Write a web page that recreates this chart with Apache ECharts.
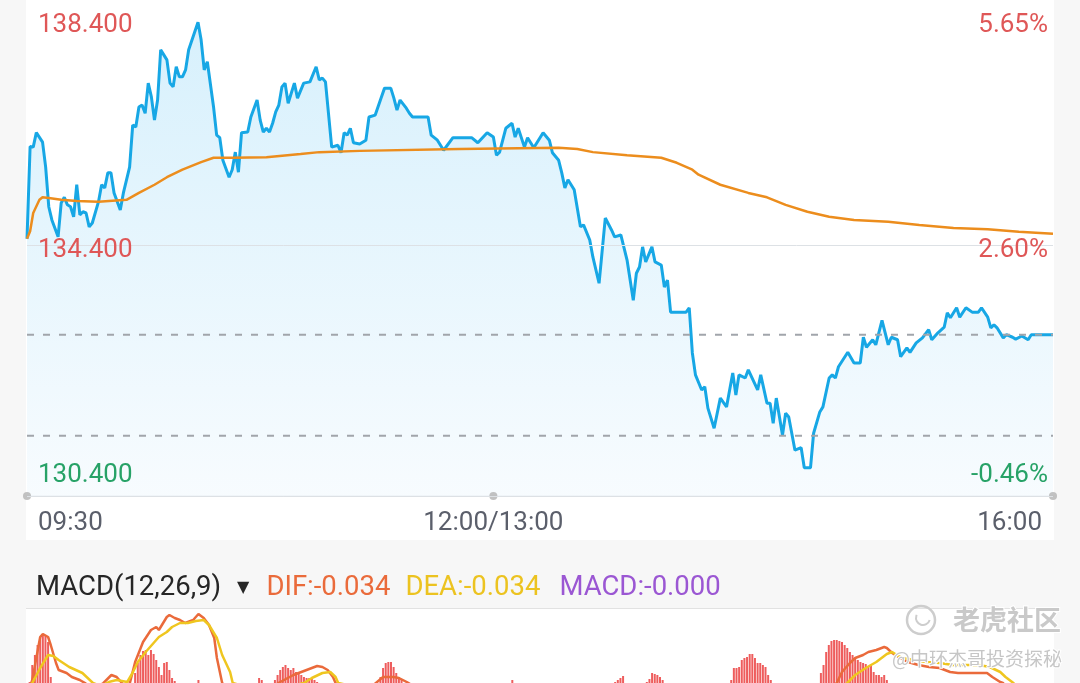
<!DOCTYPE html>
<html>
<head>
<meta charset="utf-8">
<script src="https://cdn.jsdelivr.net/npm/echarts@6/dist/echarts.min.js"></script>
<style>
html,body{margin:0;padding:0;background:#f7f7f7;overflow:hidden;}
#chart{position:absolute;left:0;top:-6px;width:1080px;height:689px;}
</style>
</head>
<body>
<div id="chart"></div>
<script>
// ---------------- data ----------------
const prevClose = 131.0;
const priceMin = 130.4, priceMax = 138.4, priceStep = 4;
const timeTicks = [0, 150, 330];                 // minutes since 09:30 (lunch break removed)
const timeLabels = ['09:30', '12:00/13:00', '16:00'];
const dashedLevels = [132.97, 131.36];

// [minute, price]
const pricePoints = [
[0,134.50],[1,135.97],[2,135.96],[3,136.19],[5,136.04],[6,135.64],[7,135.01],[8,134.80],[10,134.53],
[11,135.07],[12,135.16],[13,135.04],[14,135.01],[15,134.85],[16,135.36],[17,134.88],[18,134.93],[19,134.91],
[20,134.69],[21,134.75],[23,135.09],[24,135.36],[25,135.31],[26,135.55],[27,135.55],[28,135.23],[30,134.96],
[31,135.23],[33,135.64],[34,136.31],[35,136.28],[36,136.60],[37,136.63],[38,136.50],[39,136.98],[40,136.76],
[41,136.39],[42,136.71],[43,137.51],[45,137.35],[46,136.98],[47,136.92],[48,137.24],[49,137.08],[50,137.08],
[51,137.19],[52,137.51],[55,137.95],[56,137.67],[57,137.19],[58,137.32],[60,136.60],[61,136.15],[62,136.11],
[63,135.75],[65,135.48],[66,135.60],[67,135.88],[68,135.56],[69,136.19],[71,136.20],[72,136.44],[74,136.71],
[75,136.39],[76,136.20],[77,136.26],[78,136.20],[79,136.34],[80,136.52],[81,136.63],[82,136.92],[83,136.98],
[84,136.66],[86,136.98],[87,136.74],[89,136.98],[91,137.00],[93,137.24],[94,137.03],[95,137.06],[96,137.00],
[98,135.96],[100,135.99],[101,135.87],[102,136.19],[103,136.15],[104,136.26],[105,136.03],[107,136.01],
[109,136.07],[110,136.44],[112,136.47],[114,136.76],[115,136.90],[117,136.90],[118,136.74],[119,136.55],
[120,136.71],[122,136.58],[123,136.50],[124,136.44],[129,136.44],[130,136.15],[132,136.07],[134,135.91],
[137,136.11],[143,136.11],[145,136.03],[148,136.19],[150,136.12],[151,135.83],[152,135.88],[154,136.26],
[156,136.34],[157,136.12],[158,136.26],[160,135.96],[161,136.11],[163,135.95],[166,136.19],[168,136.07],
[169,135.87],[171,135.75],[172,135.55],[173,135.31],[174,135.44],[176,135.28],[178,134.69],[179,134.72],
[181,134.48],[182,134.21],[184,133.79],[186,134.83],[188,134.64],[189,134.53],[191,134.56],[193,134.16],
[195,133.52],[196,133.95],[197,134.05],[198,134.37],[199,134.13],[201,134.37],[202,134.13],[204,134.08],
[205,133.73],[206,133.84],[207,133.33],[212,133.33],[213,133.40],[214,132.68],[215,132.33],[217,132.09],
[218,132.14],[219,131.80],[221,131.48],[223,131.96],[225,131.82],[227,132.36],[228,132.01],[229,132.33],
[231,132.28],[232,132.41],[235,132.09],[236,132.33],[238,131.88],[239,131.88],[240,131.56],[241,131.96],
[243,131.37],[244,131.72],[245,131.66],[247,131.13],[249,131.17],[250,130.85],[252,130.85],[253,131.40],
[255,131.74],[256,131.82],[258,132.28],[259,132.33],[260,132.28],[261,132.46],[264,132.69],[266,132.52],
[268,132.52],[269,132.93],[270,132.77],[272,132.89],[273,132.81],[275,133.20],[277,132.81],[278,132.93],
[280,132.89],[281,132.62],[283,132.76],[284,132.69],[286,132.84],[288,132.92],[290,133.05],[291,132.89],
[293,133.00],[295,133.09],[296,133.32],[297,133.24],[299,133.40],[300,133.25],[302,133.40],[304,133.33],
[306,133.33],[307,133.40],[309,133.25],[310,133.08],[311,133.13],[312,133.08],[314,132.92],[315,132.97],
[317,132.93],[318,132.90],[320,132.95],[322,132.89],[323,132.97],[330,132.97]
];

// [minute, average price]
const avgPoints = [
[0,134.50],[1,134.62],[2,134.91],[4,135.12],[5,135.16],[7,135.15],[11,135.12],[16,135.10],[23,135.09],
[32,135.12],[36,135.23],[41,135.36],[45,135.48],[50,135.60],[56,135.72],[60,135.79],[66,135.79],[77,135.80],
[88,135.85],[94,135.88],[107,135.90],[139,135.93],[171,135.95],[177,135.93],[182,135.88],[193,135.83],
[204,135.79],[209,135.71],[214,135.60],[216,135.52],[223,135.36],[232,135.23],[238,135.16],[244,135.04],
[251,134.93],[258,134.85],[266,134.80],[277,134.77],[287,134.72],[298,134.67],[309,134.65],[319,134.61],
[330,134.58]
];

// MACD panel (bar index, value)
const macdBarCount = 389;
const macdVisibleMin = 0.017, macdVisibleMax = 0.1;
const macdHeader = ['MACD(12,26,9)', 'DIF:-0.034', 'DEA:-0.034', 'MACD:-0.000'];
const difPoints = [
[0,0.005],[2,0.020],[5,0.063],[6,0.066],[8,0.063],[9,0.055],[11,0.037],[12,0.030],[15,0.027],[17,0.023],
[20,0.020],[22,0.017],[25,0.010],[29,0.017],[32,0.025],[34,0.023],[36,0.017],[37,0.013],[39,0.017],[41,0.038],
[44,0.058],[47,0.070],[49,0.073],[50,0.070],[53,0.083],[54,0.085],[56,0.082],[58,0.080],[60,0.077],[63,0.080],
[65,0.086],[67,0.082],[69,0.075],[71,0.062],[72,0.042],[74,0.017],[80,0.000],[88,0.005],[96,0.018],[101,0.025],
[106,0.030],[110,0.034],[112,0.033],[114,0.030],[116,0.023],[117,0.017],[122,0.005],[130,0.012],[135,0.023],
[139,0.023],[141,0.022],[144,0.018],[150,0.008],[180,-0.030],[220,-0.080],[250,-0.090],[280,-0.050],[300,0.000],
[307,0.017],[309,0.028],[312,0.037],[314,0.042],[317,0.045],[319,0.048],[322,0.050],[325,0.053],[326,0.052],
[328,0.047],[331,0.042],[334,0.038],[338,0.035],[342,0.033],[346,0.032],[350,0.028],[353,0.027],[358,0.027],
[364,0.027],[366,0.023],[369,0.018],[370,0.017],[389,-0.034]
];
const deaPoints = [
[0,0.000],[2,0.017],[5,0.032],[8,0.045],[10,0.044],[12,0.040],[16,0.033],[21,0.027],[25,0.017],[28,0.014],
[31,0.018],[34,0.020],[38,0.018],[40,0.027],[42,0.038],[45,0.048],[48,0.057],[50,0.063],[53,0.068],[55,0.073],
[58,0.077],[61,0.077],[64,0.079],[67,0.080],[69,0.075],[72,0.062],[74,0.045],[77,0.028],[78,0.017],[90,0.008],
[105,0.017],[108,0.022],[112,0.027],[115,0.028],[117,0.023],[118,0.017],[130,0.010],[150,0.000],[180,-0.020],
[220,-0.060],[250,-0.075],[280,-0.050],[300,-0.005],[311,0.017],[314,0.025],[318,0.032],[322,0.038],[326,0.046],
[328,0.048],[331,0.043],[336,0.040],[341,0.038],[346,0.037],[351,0.035],[356,0.035],[361,0.035],[365,0.033],
[369,0.028],[371,0.023],[374,0.017],[389,-0.034]
];
const macdBars = [
[1,0.018],[2,0.035],[3,0.045],[4,0.055],[5,0.063],[6,0.066],[7,0.065],[8,0.058],[9,0.023],
[41,0.027],[42,0.037],[43,0.045],[44,0.049],[45,0.050],[46,0.045],[47,0.050],[48,0.046],[49,0.040],[50,0.033],
[51,0.025],[52,0.037],[53,0.038],[54,0.030],[55,0.022],[56,0.019],
[65,0.020],[88,0.022],[89,0.020],
[94,0.020],[95,0.025],[96,0.030],[97,0.033],[98,0.035],[99,0.032],[100,0.030],[101,0.032],[102,0.028],[103,0.027],
[104,0.025],[105,0.023],[106,0.022],[107,0.022],[108,0.022],[109,0.020],[110,0.018],
[134,0.023],[135,0.032],[136,0.037],[137,0.038],[138,0.038],[139,0.033],[140,0.027],[141,0.023],[142,0.020],
[184,0.020],
[223,0.018],[224,0.020],[225,0.022],[226,0.024],
[235,0.018],[236,0.021],[237,0.027],[238,0.026],[239,0.025],[240,0.023],[241,0.020],
[267,0.020],[268,0.032],[269,0.032],[270,0.033],[271,0.040],[272,0.042],[273,0.043],[274,0.046],[275,0.046],
[276,0.042],[277,0.037],[278,0.037],[279,0.035],[280,0.033],[281,0.025],[282,0.020],
[301,0.027],[302,0.035],[303,0.048],[304,0.055],[305,0.059],[306,0.060],[307,0.060],[308,0.059],[309,0.058],
[310,0.055],[311,0.052],[312,0.048],[313,0.045],[314,0.042],[315,0.040],[316,0.038],[317,0.037],[318,0.036],
[319,0.033],[320,0.035],[321,0.028],[322,0.025],[323,0.025],[324,0.023],[325,0.025],[326,0.020]
];
const watermark = ['老虎社区', '@中环杰哥投资探秘'];

// ---------------- chart ----------------
const FONT = 'Roboto, "Noto Sans", sans-serif';
const RED = '#df5757', GREEN = '#27a267';
const chart = echarts.init(document.getElementById('chart'), null, {renderer: 'canvas'});

function labelPos(v) {
  return Math.abs(v - priceMax) < 1e-6 ? 't' : (Math.abs(v - priceMin) < 1e-6 ? 'b' : 'm');
}
function priceLabel(v) {
  return '{' + (v >= prevClose ? 'r' : 'g') + labelPos(v) + '|' + v.toFixed(3) + '}';
}
function pctLabel(v) {
  return '{' + (v >= prevClose ? 'r' : 'g') + labelPos(v) + '|' + ((v / prevClose - 1) * 100).toFixed(2) + '%}';
}
function sideRich() {
  const base = {fontSize: 26, fontFamily: FONT, fontWeight: 'normal'};
  return {
    rt: Object.assign({color: RED, padding: [62, 0, 0, 0]}, base),
    rm: Object.assign({color: RED, padding: [10, 0, 0, 0]}, base),
    rb: Object.assign({color: RED, padding: [0, 0, 42, 0]}, base),
    gt: Object.assign({color: GREEN, padding: [62, 0, 0, 0]}, base),
    gm: Object.assign({color: GREEN, padding: [10, 0, 0, 0]}, base),
    gb: Object.assign({color: GREEN, padding: [0, 0, 42, 0]}, base)
  };
}
function headTok(color, pad) {
  return {fontSize: 27.5, fontFamily: FONT, fontWeight: 'normal', color: color, lineHeight: 34, padding: [0, pad, 0, 0]};
}

const option = {
  animation: false,
  backgroundColor: '#f7f7f7',
  title: {
    left: 36, top: 577, padding: 0,
    text: '{a|' + macdHeader[0] + '}{tri|▼}{b|' + macdHeader[1] + '}{c|' + macdHeader[2] + '}{d|' + macdHeader[3] + '}',
    textStyle: {
      fontWeight: 'normal',
      rich: {
        a: headTok('#262626', 16),
        tri: {fontSize: 16, fontFamily: 'DejaVu Sans', color: '#262626', lineHeight: 34, padding: [0, 17, 0, 0]},
        b: headTok('#ea6b3b', 15),
        c: headTok('#ecc320', 19),
        d: headTok('#9b57d3', 0)
      }
    }
  },
  grid: [
    {left: 27, right: 27, top: 0, height: 502},
    {left: 27, right: 27, top: 606, height: 83}
  ],
  xAxis: [
    {
      type: 'value', gridIndex: 0, min: 0, max: 330,
      axisLine: {show: true, lineStyle: {color: '#e1e3e6', width: 1.5}},
      axisTick: {show: false}, splitLine: {show: false},
      axisLabel: {
        customValues: timeTicks,
        margin: 14,
        alignMinLabel: 'left', alignMaxLabel: 'right',
        formatter: function (v) {
          const i = timeTicks.indexOf(v);
          const cls = i === 0 ? 'l' : (i === timeTicks.length - 1 ? 'r' : 'c');
          return '{' + cls + '|' + timeLabels[i] + '}';
        },
        rich: {
          l: {fontSize: 26, fontFamily: FONT, color: '#5b5f6b', padding: [0, 0, 0, 11]},
          c: {fontSize: 26, fontFamily: FONT, color: '#5b5f6b'},
          r: {fontSize: 26, fontFamily: FONT, color: '#5b5f6b', padding: [0, 11, 0, 0]}
        }
      }
    },
    {type: 'value', gridIndex: 1, min: 0, max: macdBarCount, show: false}
  ],
  yAxis: [
    {
      type: 'value', gridIndex: 0, position: 'left', min: priceMin, max: priceMax, interval: priceStep, z: 10,
      axisLine: {show: false}, axisTick: {show: false},
      splitLine: {show: true, lineStyle: {color: '#dde1e5', width: 1}},
      axisLabel: {inside: true, margin: 11, showMinLabel: true, showMaxLabel: true, formatter: priceLabel, rich: sideRich()}
    },
    {
      type: 'value', gridIndex: 0, position: 'right', min: priceMin, max: priceMax, interval: priceStep, z: 10,
      axisLine: {show: false}, axisTick: {show: false}, splitLine: {show: false},
      axisLabel: {inside: true, margin: 5, showMinLabel: true, showMaxLabel: true, formatter: pctLabel, rich: sideRich()}
    },
    {type: 'value', gridIndex: 1, min: macdVisibleMin, max: macdVisibleMax, show: false}
  ],
  graphic: [
    {type: 'rect', z: -10, silent: true, shape: {x: 26, y: 0, width: 1028, height: 546}, style: {fill: '#ffffff'}},
    {type: 'rect', z: -10, silent: true, shape: {x: 26, y: 615, width: 1028, height: 80}, style: {fill: '#ffffff'}},
    {type: 'line', z: -9, silent: true, shape: {x1: 26, y1: 614.5, x2: 1054, y2: 614.5}, style: {stroke: '#e2e2e2', lineWidth: 1}},
    {type: 'circle', z: 100, silent: true, shape: {cx: 921, cy: 626, r: 14}, style: {fill: 'none', stroke: '#cdcdcd', lineWidth: 2.5}},
    {type: 'arc', z: 100, silent: true, shape: {cx: 923, cy: 624, r: 7, startAngle: 0.3, endAngle: 3.6}, style: {fill: 'none', stroke: '#cdcdcd', lineWidth: 2}},
    {type: 'text', z: 100, silent: true, x: 953, y: 626,
      style: {text: watermark[0], font: 'bold 27px "Noto Sans CJK SC"', fill: '#c9c9c9', stroke: '#ffffff', lineWidth: 2, verticalAlign: 'middle'}},
    {type: 'text', z: 100, silent: true, x: 892, y: 665,
      style: {text: watermark[1], font: '19px "Noto Sans CJK SC"', fill: '#c6c6c6', stroke: '#ffffff', lineWidth: 2, verticalAlign: 'middle'}}
  ],
  series: [
    {
      name: 'price', type: 'line', xAxisIndex: 0, yAxisIndex: 0,
      data: pricePoints, showSymbol: false, symbol: 'none', z: 3,
      lineStyle: {color: '#17a7e5', width: 3},
      areaStyle: {
        origin: 'start',
        color: new echarts.graphic.LinearGradient(0, 0, 0, 1, [
          {offset: 0, color: '#c6eafb'},
          {offset: 1, color: '#f4fafe'}
        ])
      }
    },
    {
      name: 'avg', type: 'line', xAxisIndex: 0, yAxisIndex: 0,
      data: avgPoints, showSymbol: false, symbol: 'none', z: 4,
      lineStyle: {color: '#ec8d1d', width: 2.5}
    },
    {
      name: 'level1', type: 'line', xAxisIndex: 0, yAxisIndex: 0, silent: true,
      data: [[0, dashedLevels[0]], [330, dashedLevels[0]]], showSymbol: false, symbol: 'none', z: 5,
      lineStyle: {color: '#a1a5ab', width: 2, type: [7, 9]}
    },
    {
      name: 'level2', type: 'line', xAxisIndex: 0, yAxisIndex: 0, silent: true,
      data: [[0, dashedLevels[1]], [330, dashedLevels[1]]], showSymbol: false, symbol: 'none', z: 5,
      lineStyle: {color: '#a1a5ab', width: 2, type: [7, 9]}
    },
    {
      name: 'dots', type: 'scatter', xAxisIndex: 0, yAxisIndex: 0, clip: false, z: 6,
      data: timeTicks.map(t => [t, priceMin]), symbolSize: 8,
      itemStyle: {color: '#b3b3b3'}
    },
    {
      name: 'MACD', type: 'bar', xAxisIndex: 1, yAxisIndex: 2,
      data: macdBars, barWidth: 2, itemStyle: {color: '#ee5d5d'}
    },
    {
      name: 'DIF', type: 'line', xAxisIndex: 1, yAxisIndex: 2,
      data: difPoints, showSymbol: false, symbol: 'none', z: 4,
      lineStyle: {color: '#ea6a3b', width: 2.5}
    },
    {
      name: 'DEA', type: 'line', xAxisIndex: 1, yAxisIndex: 2,
      data: deaPoints, showSymbol: false, symbol: 'none', z: 4,
      lineStyle: {color: '#efc61f', width: 2.5}
    }
  ]
};
chart.setOption(option);
</script>
</body>
</html>
